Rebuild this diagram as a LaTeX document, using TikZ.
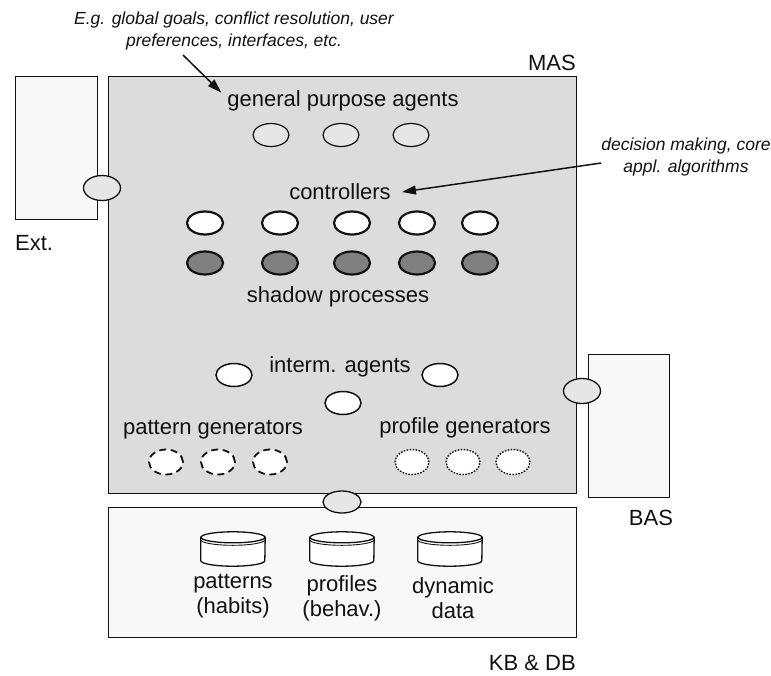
\documentclass[tikz,border=0pt]{standalone}
\usepackage{fontspec}
\setmainfont{Liberation Sans}
\usetikzlibrary{shapes.geometric,arrows.meta}
\definecolor{masfill}{HTML}{DCDCDC}
\definecolor{boxfill}{HTML}{F8F8F8}
\definecolor{portfill}{HTML}{E6E6E6}
\definecolor{shadefill}{HTML}{808080}
\definecolor{ink}{HTML}{111111}

% database disk: body with rounded bottom, top cap and a second rim line
\newcommand\drawdisk[1]{%
  \draw[diskline, fill=white] ([yshift=-5.5pt]#1.north west) -- ([yshift=5.5pt]#1.south west)
    arc[start angle=180, end angle=360, x radius=32pt, y radius=5.5pt]
    -- ([yshift=-5.5pt]#1.north east) -- cycle;
  \draw[diskline, fill=white] ([yshift=-5.5pt]#1.north) ellipse[x radius=32pt, y radius=5.5pt];
  \draw[diskline, line width=0.9pt] ([yshift=-8pt]#1.north west)
    arc[start angle=180, end angle=360, x radius=32pt, y radius=5.5pt];
}

\begin{document}
\begin{tikzpicture}[x=1pt, y=-1pt,
  lbl/.style={font=\fontsize{22}{25}\selectfont, inner sep=0pt, align=center, text=ink},
  note/.style={font=\itshape\fontsize{17.5}{21.5}\selectfont, inner sep=0pt, align=center, text=ink},
  region/.style={draw=ink, line width=1.4pt, inner sep=0pt, anchor=north west},
  port/.style={ellipse, draw=ink, line width=1.3pt, fill=portfill, minimum width=37pt, minimum height=25pt, inner sep=0pt},
  agent/.style={ellipse, draw=ink, minimum width=36pt, minimum height=23pt, inner sep=0pt},
  gpagent/.style={agent, line width=1.2pt, fill=portfill},
  ctrl/.style={agent, line width=2.2pt, fill=white},
  shadow/.style={agent, line width=2.2pt, fill=shadefill},
  interm/.style={agent, line width=1.5pt, fill=white},
  patgen/.style={agent, minimum width=34pt, minimum height=25pt, line width=1.8pt, fill=white, dash pattern=on 7pt off 4.5pt},
  profgen/.style={agent, minimum width=34pt, minimum height=25pt, line width=1.4pt, fill=white, dash pattern=on 1.6pt off 1.4pt},
  disk/.style={minimum width=64pt, minimum height=34pt, inner sep=0pt},
  diskline/.style={draw=ink, line width=1.3pt},
  arr/.style={draw=ink, line width=1.5pt, -{Triangle[length=14pt, width=9pt]}}
]
\useasboundingbox (0,0) rectangle (771,675);

% regions
\node[region, fill=masfill, minimum width=468pt, minimum height=417pt] (mas) at (108,76) {};
\node[region, fill=boxfill, minimum width=82pt, minimum height=143pt] (ext) at (15,76) {};
\node[region, fill=boxfill, minimum width=81pt, minimum height=143pt] (bas) at (588,354) {};
\node[region, fill=boxfill, minimum width=468pt, minimum height=130pt] (kb) at (108,507) {};

\node[lbl, anchor=east] (maslbl) at (576,63) {MAS};
\node[lbl, anchor=west] (extlbl) at (15,243) {Ext.};
\node[lbl] (baslbl) at (651,518) {BAS};
\node[lbl, anchor=east] (kblbl) at (576,663) {KB \& DB};

% interfaces between regions
\node[port] (pext) at (102,188) {};
\node[port] (pbas) at (582,391) {};
\node[port, minimum width=38pt, minimum height=22pt] (pkb) at (342,502) {};

% general purpose agents
\node[lbl] (gpa) at (343,101) {general purpose agents};
\node[gpagent] (g1) at (271,135) {};
\node[gpagent] (g2) at (341,135) {};
\node[gpagent] (g3) at (411,135) {};

% controllers and their shadow processes
\node[lbl] (ctl) at (340,192) {controllers};
\foreach \x [count=\i] in {205,280,352,417,480} {
  \node[ctrl] (c\i) at (\x,223) {};
  \node[shadow] (s\i) at (\x,263) {};
}
\node[lbl] (shl) at (338,297) {shadow processes};

% intermediate agents
\node[lbl] (itl) at (340,367) {interm. agents};
\node[interm] (i1) at (234,375) {};
\node[interm] (i2) at (440,375) {};
\node[interm] (i3) at (343,403) {};

% generators
\node[lbl] (pgl) at (213,430) {pattern generators};
\node[patgen] (pg1) at (166,462) {};
\node[patgen] (pg2) at (218,462) {};
\node[patgen] (pg3) at (270,462) {};
\node[lbl] (prl) at (465,428) {profile generators};
\node[profgen] (pr1) at (412,462) {};
\node[profgen] (pr2) at (463,462) {};
\node[profgen] (pr3) at (513,462) {};

% knowledge base and databases
\node[disk] (dpat) at (233,549) {};
\node[disk] (dpro) at (342,549) {};
\node[disk] (ddyn) at (450,549) {};
\drawdisk{dpat}
\drawdisk{dpro}
\drawdisk{ddyn}
\node[lbl] (lpat) at (233,596) {patterns\\(habits)};
\node[lbl] (lpro) at (342,598) {profiles\\(behav.)};
\node[lbl] (ldyn) at (453,598) {dynamic\\data};

% annotations
\node[note] (note1) at (234,31) {E.g. global goals, conflict resolution, user\\preferences, interfaces, etc.};
\node[note] (note2) at (686,157) {decision making, core\\appl. algorithms};
\coordinate (n1tail) at (183,55);
\draw[arr] (n1tail) -- ([xshift=-6pt, yshift=-2pt]gpa.north west);
\draw[arr] ([yshift=-6pt]note2.west) -- ([xshift=11pt]ctl.east);
\end{tikzpicture}
\end{document}
